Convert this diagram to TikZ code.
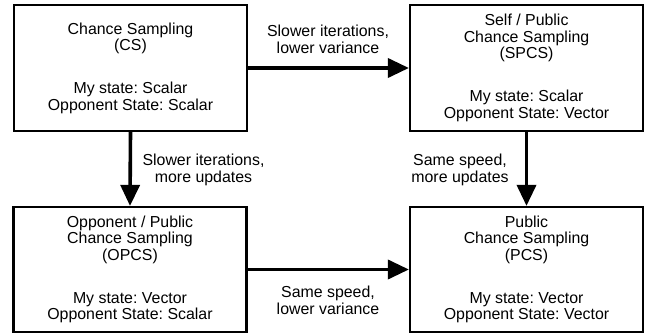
\documentclass[tikz,border=0pt]{standalone}
\usepackage{fontspec}
\setmainfont{Liberation Sans}
\usetikzlibrary{arrows.meta}
\frenchspacing
\tikzset{
  box/.style={draw=black, line width=2.2pt, minimum width=233pt, minimum height=126pt,
    inner sep=0pt, align=center, font=\fontsize{15.9}{16.5}\selectfont},
  lbl/.style={align=center, inner sep=0pt, font=\fontsize{15.9}{17}\selectfont},
  conn/.style={line width=3.6pt, -{Triangle[length=21pt,width=19pt]}}
}
\begin{document}
\begin{tikzpicture}[x=1pt,y=-1pt]
\useasboundingbox (0,0) rectangle (655,336);
\node[box] (cs) at (130.5,68) {Chance Sampling\\(CS)\\[26.5pt]My state: Scalar\\Opponent State: Scalar};
\node[box] (spcs) at (526.5,68) {Self / Public\\Chance Sampling\\(SPCS)\\[26.5pt]My state: Scalar\\Opponent State: Vector};
\node[box, minimum height=125pt] (opcs) at (130,269.5) {Opponent / Public\\Chance Sampling\\(OPCS)\\[26.5pt]My state: Vector\\Opponent State: Scalar};
\node[box, minimum height=125pt] (pcs) at (526.5,269.5) {Public\\Chance Sampling\\(PCS)\\[26.5pt]My state: Vector\\Opponent State: Vector};
\draw[conn] (cs.east) -- (spcs.west);
\draw[conn] (cs.south) -- (opcs.north);
\draw[conn] (spcs.south) -- (pcs.north);
\draw[conn] (opcs.east) -- (pcs.west);
\node[lbl] (l1) at (328,39.5) {Slower iterations,\\lower variance};
\node[lbl] (l2) at (203.5,170) {Slower iterations,\\more updates};
\node[lbl] (l3) at (460,170) {Same speed,\\more updates};
\node[lbl] (l4) at (328,300.5) {Same speed,\\lower variance};
\end{tikzpicture}
\end{document}
